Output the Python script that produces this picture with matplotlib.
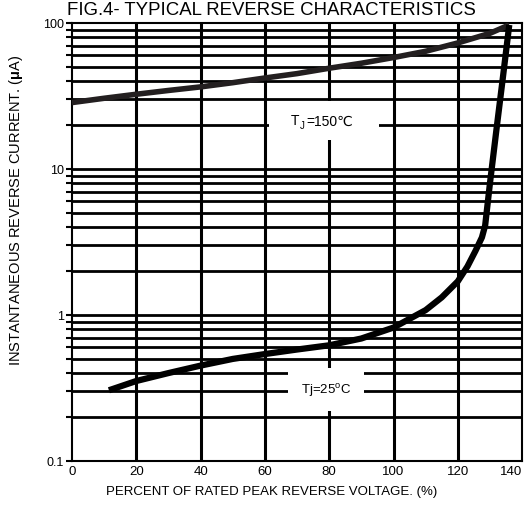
import matplotlib
matplotlib.use('Agg')
import matplotlib.pyplot as plt
from matplotlib.ticker import FixedLocator, NullFormatter, FixedFormatter

plt.rcParams['font.family'] = ['Liberation Sans', 'DejaVu Sans']
plt.rcParams['mathtext.fontset'] = 'custom'
plt.rcParams['mathtext.rm'] = 'Liberation Sans'
plt.rcParams['mathtext.it'] = 'Liberation Sans:italic'
plt.rcParams['mathtext.bf'] = 'Liberation Sans:bold'

# datos
voltage150 = [0, 10, 20, 30, 40, 50, 60, 70, 80, 90, 100, 110, 120, 130, 136]
current150 = [28.5, 30.5, 32.5, 34.5, 36.5, 39, 42, 45, 49, 53, 58, 64, 73, 85, 97]

voltage25 = [11.5, 20, 30, 40, 50, 60, 70, 80, 90, 100, 110, 115, 120, 123, 125.5, 127.5, 128.5, 130, 132, 134, 136]
current25 = [0.305, 0.353, 0.40, 0.45, 0.50, 0.54, 0.58, 0.62, 0.69, 0.82, 1.08, 1.32, 1.7, 2.15, 2.75, 3.4, 4.1, 8.0, 18.5, 42, 97]

xticks = [0, 20, 40, 60, 80, 100, 120, 140]
yticks = [0.1, 1, 10, 100]
ytickLabels = ['0.1', '1', '10', '100']

fig = plt.figure(figsize=(5.29, 5.06), dpi=100)
ax = fig.add_axes([0.136, 0.087, 0.851, 0.8656])

ax.set_yscale('log')
ax.set_xlim(0, 140)
ax.set_ylim(0.1, 100)

# rejilla
minors = []
for dec in [0.1, 1, 10]:
    for k in range(2, 10):
        minors.append(dec * k)
for x in xticks[1:-1]:
    ax.axvline(x, color='black', lw=2.2, zorder=1)
for y in minors + [1, 10]:
    ax.axhline(y, color='black', lw=2.0, zorder=1)

ax.plot(voltage150, current150, color='#231f20', lw=4, solid_capstyle='butt', zorder=3)
ax.plot(voltage25, current25, color='black', lw=4.5, solid_capstyle='butt', solid_joinstyle='round', zorder=3)

ax.yaxis.set_major_locator(FixedLocator(yticks))
ax.yaxis.set_major_formatter(FixedFormatter(ytickLabels))
ax.yaxis.set_minor_locator(FixedLocator(minors))
ax.yaxis.set_minor_formatter(NullFormatter())
ax.tick_params(axis='y', which='both', direction='out', length=4, width=1.5, labelsize=9, pad=2)
ax.set_xticks(xticks)
ax.tick_params(axis='x', length=0, labelsize=9.5, pad=3)
labs = ax.get_xticklabels()
labs[-1].set_horizontalalignment('right')

for s in ax.spines.values():
    s.set_linewidth(1.5)

# etiqueta 150 C: caja blanca + piezas de texto (sin mathtext para el simbolo)
ax.text(78.5, 21.5, ' ' * 22, ha='center', va='center', fontsize=10, zorder=4,
        bbox=dict(facecolor='white', edgecolor='none', boxstyle='square,pad=0.9'))
ax.annotate('T', xy=(78.5, 21.5), xytext=(-18, 0), textcoords='offset points',
            ha='right', va='center', fontsize=10, zorder=5)
ax.annotate('J', xy=(78.5, 21.5), xytext=(-18, -3), textcoords='offset points',
            ha='left', va='center', fontsize=7, zorder=5)
ax.annotate('=150\u2103', xy=(78.5, 21.5), xytext=(-13, 0), textcoords='offset points',
            ha='left', va='center', fontsize=10, zorder=5,
            family=['Liberation Sans', 'DejaVu Sans'])

ax.text(79, 0.31, 'Tj=25$^\\mathregular{o}$C', ha='center', va='center', fontsize=9.5, zorder=4,
        bbox=dict(facecolor='white', edgecolor='none', boxstyle='square,pad=1.0'))

ax.set_xlabel('PERCENT OF RATED PEAK REVERSE VOLTAGE. (%)', fontsize=9.5)
ax.xaxis.set_label_coords(0.444, -0.055)
ax.set_ylabel('INSTANTANEOUS REVERSE CURRENT. ($\\mathbf{\\mu}$A)', fontsize=10.5)
ax.yaxis.set_label_coords(-0.105, 0.575)
fig.text(0.514, 0.962, 'FIG.4- TYPICAL REVERSE CHARACTERISTICS', ha='center', va='bottom', fontsize=13.4)

fig.savefig('out.png', dpi=100)
